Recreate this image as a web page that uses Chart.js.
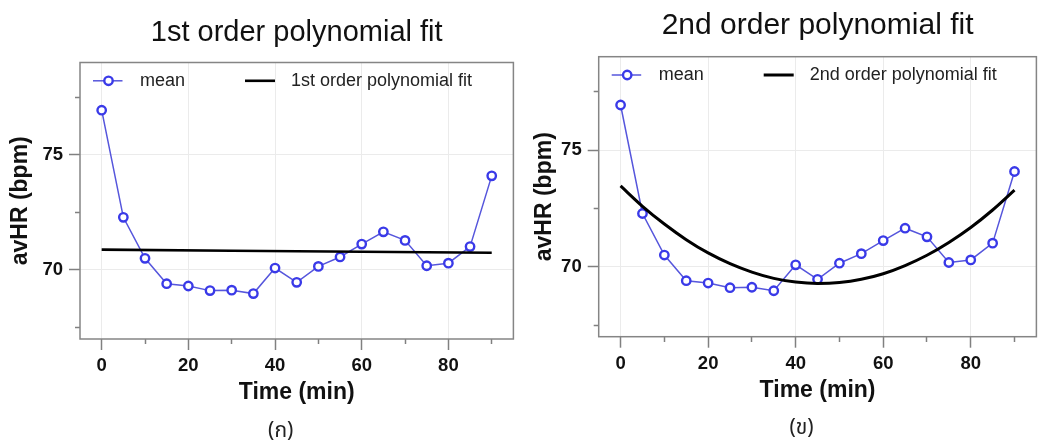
<!DOCTYPE html>
<html><head><meta charset="utf-8">
<script src="https://cdn.jsdelivr.net/npm/chart.js@4.4.1/dist/chart.umd.min.js"></script>
<style>
html,body{margin:0;padding:0;background:#fff;}
#wrap{position:relative;width:1043px;height:446px;overflow:hidden;background:#fff;}
.panel{position:absolute;top:0;height:446px;}
canvas{display:block;}
</style></head><body>
<div id="wrap">
<div class="panel" style="left:0;width:520px"><canvas id="c1" width="520" height="446"></canvas></div>
<div class="panel" style="left:520px;width:523px"><canvas id="c2" width="523" height="446"></canvas></div>
</div>
<script>
// ---- data ----
const minutes = [0, 5, 10, 15, 20, 25, 30, 35, 40, 45, 50, 55, 60, 65, 70, 75, 80, 85, 90];
const meanHR = [76.93, 72.28, 70.50, 69.40, 69.30, 69.10, 69.12, 68.97, 70.08, 69.46, 70.15, 70.56, 71.12, 71.65, 71.28, 70.18, 70.29, 71.01, 74.08];
const fit1Minutes = [0, 90];
const fit1HR = [70.88, 70.74];
const fit2HR = [73.46, 72.59, 71.83, 71.16, 70.59, 70.13, 69.77, 69.50, 69.34, 69.28, 69.32, 69.46, 69.70, 70.05, 70.49, 71.04, 71.68, 72.43, 73.28];
const xTickValues = [0, 10, 20, 30, 40, 50, 60, 70, 80, 90];
const xTickLabels = ['0', '', '20', '', '40', '', '60', '', '80', ''];
const yTickValues = [67.5, 70, 72.5, 75, 77.5];
const yTickLabels = ['', '70', '', '75', ''];
const panelTitles = ['1st order polynomial fit', '2nd order polynomial fit'];
const fitLabels = ['1st order polynomial fit', '2nd order polynomial fit'];
const meanLabel = 'mean';
const captions = ['(ก)', '(ข)'];
const yTitle = 'avHR (bpm)';
const xTitle = 'Time (min)';

const FONT = "'Liberation Sans', Arial, Helvetica, sans-serif";
const THAI_FONT = "'Noto Sans Thai', 'Noto Serif Thai', 'Tlwg Typo', 'Garuda', 'Loma', 'Norasi', 'Noto Sans', 'DejaVu Sans', sans-serif";

const decor = {
  id: 'decor',
  afterDatasetsDraw(chart, args, opts) {
    const {ctx, chartArea: a} = chart;
    ctx.save();
    // frame
    ctx.strokeStyle = '#858585';
    ctx.lineWidth = 1.5;
    ctx.strokeRect(a.left, a.top, a.right - a.left, a.bottom - a.top);
    // legend inside plot
    const ds = chart.data.datasets;
    const mean = ds.find(d => d.kind === 'mean');
    const fit = ds.find(d => d.kind === 'fit');
    const ly = a.top + opts.legendDy;
    ctx.strokeStyle = mean.borderColor;
    ctx.lineWidth = mean.borderWidth;
    ctx.beginPath(); ctx.moveTo(a.left + 13, ly); ctx.lineTo(a.left + 42.5, ly); ctx.stroke();
    ctx.beginPath(); ctx.arc(a.left + 28.5, ly, mean.pointRadius, 0, Math.PI * 2);
    ctx.fillStyle = mean.pointBackgroundColor; ctx.fill();
    ctx.strokeStyle = mean.pointBorderColor; ctx.lineWidth = mean.pointBorderWidth; ctx.stroke();
    ctx.fillStyle = '#222';
    ctx.font = '18px ' + FONT;
    ctx.textBaseline = 'middle';
    ctx.textAlign = 'left';
    ctx.fillText(mean.label, a.left + 60, ly);
    ctx.strokeStyle = fit.borderColor;
    ctx.lineWidth = fit.borderWidth;
    ctx.beginPath(); ctx.moveTo(a.left + 165, ly); ctx.lineTo(a.left + 195, ly); ctx.stroke();
    ctx.fillText(fit.label, a.left + 211, ly);
    ctx.restore();
  },
  afterDraw(chart, args, opts) {
    const {ctx, chartArea: a} = chart;
    ctx.save();
    ctx.fillStyle = '#222';
    ctx.font = '21px ' + THAI_FONT;
    ctx.textAlign = 'center';
    ctx.textBaseline = 'middle';
    ctx.fillText(opts.caption, (a.left + a.right) / 2 + opts.captionDx, a.bottom + opts.captionDy);
    ctx.restore();
  }
};

function makeChart(id, p) {
  return new Chart(document.getElementById(id), {
    type: 'line',
    data: {
      datasets: [
        {
          kind: 'fit', label: p.fitLabel, data: p.fitData,
          borderColor: '#000000', borderWidth: p.fitWidth, pointRadius: 0,
          tension: 0.4, cubicInterpolationMode: 'monotone', fill: false
        },
        {
          kind: 'mean', label: meanLabel,
          data: minutes.map((m, i) => ({x: m, y: meanHR[i]})),
          borderColor: '#5656dc', borderWidth: 1.5,
          pointRadius: 4.2, pointBorderWidth: 2.4,
          pointBorderColor: '#3a3ae8', pointBackgroundColor: '#ffffff',
          tension: 0, fill: false
        }
      ]
    },
    options: {
      responsive: false, animation: false, devicePixelRatio: 1,
      layout: {padding: {left: 0, top: 0, right: p.padRight, bottom: p.padBottom}},
      plugins: {
        legend: {display: false},
        tooltip: {enabled: false},
        title: {
          display: true, text: p.title, fullSize: false, color: '#111',
          font: {family: FONT, size: p.titleSize, weight: 'normal', lineHeight: 1.2},
          padding: {top: p.titleTop, bottom: p.titleBottom}
        },
        decor: {caption: p.caption, legendDy: 18.3, captionDx: -16, captionDy: p.captionDy}
      },
      scales: {
        x: {
          type: 'linear', min: -5, max: 95,
          afterBuildTicks: s => { s.ticks = xTickValues.map(v => ({value: v})); },
          afterFit: s => { s.height = p.xHeight; },
          ticks: {
            callback: (v, i) => xTickLabels[i], color: '#111', autoSkip: false, maxRotation: 0,
            font: {family: FONT, size: 18.5, weight: 'bold'}, padding: 5
          },
          grid: {
            color: c => xTickLabels[c.index] ? '#ebebeb' : 'rgba(0,0,0,0)',
            lineWidth: 1, tickColor: '#808080', tickWidth: 1.5, tickLength: 11,
            tickBorderDash: c => xTickLabels[c.index] ? [] : [5, 100]
          },
          border: {display: false},
          title: {
            display: true, text: xTitle, color: '#111',
            font: {family: FONT, size: 23, weight: 'bold', lineHeight: 1.2},
            padding: {top: 0, bottom: 0}
          }
        },
        y: {
          type: 'linear', min: 67, max: 79,
          afterBuildTicks: s => { s.ticks = yTickValues.map(v => ({value: v})); },
          afterFit: s => { s.width = p.yWidth; },
          ticks: {
            callback: (v, i) => yTickLabels[i], color: '#111', autoSkip: false,
            font: {family: FONT, size: 18.5, weight: 'bold'}, padding: 6
          },
          grid: {
            color: c => yTickLabels[c.index] ? '#ebebeb' : 'rgba(0,0,0,0)',
            lineWidth: 1, tickColor: '#808080', tickWidth: 1.5, tickLength: 11,
            tickBorderDash: c => yTickLabels[c.index] ? [] : [0, 6, 5, 100]
          },
          border: {display: false},
          title: {
            display: true, text: yTitle, color: '#111',
            font: {family: FONT, size: 23, weight: 'bold', lineHeight: 1.2},
            padding: {top: p.yTitlePad, bottom: 0}
          }
        }
      }
    },
    plugins: [decor]
  });
}

makeChart('c1', {
  title: panelTitles[0], titleSize: 29, titleTop: 15.6, titleBottom: 12.1,
  fitLabel: fitLabels[0],
  fitData: fit1Minutes.map((m, i) => ({x: m, y: fit1HR[i]})),
  fitWidth: 2.6, caption: captions[0], captionDy: 94,
  padRight: 5, padBottom: 39.2, xHeight: 67.8, yWidth: 80, yTitlePad: 6.7
});
makeChart('c2', {
  title: panelTitles[1], titleSize: 30, titleTop: 7.5, titleBottom: 13.2,
  fitLabel: fitLabels[1],
  fitData: minutes.map((m, i) => ({x: m, y: fit2HR[i]})),
  fitWidth: 3, caption: captions[1], captionDy: 93.3,
  padRight: 3.7, padBottom: 41.2, xHeight: 68.1, yWidth: 78.7, yTitlePad: 11
});
</script>
</body></html>
